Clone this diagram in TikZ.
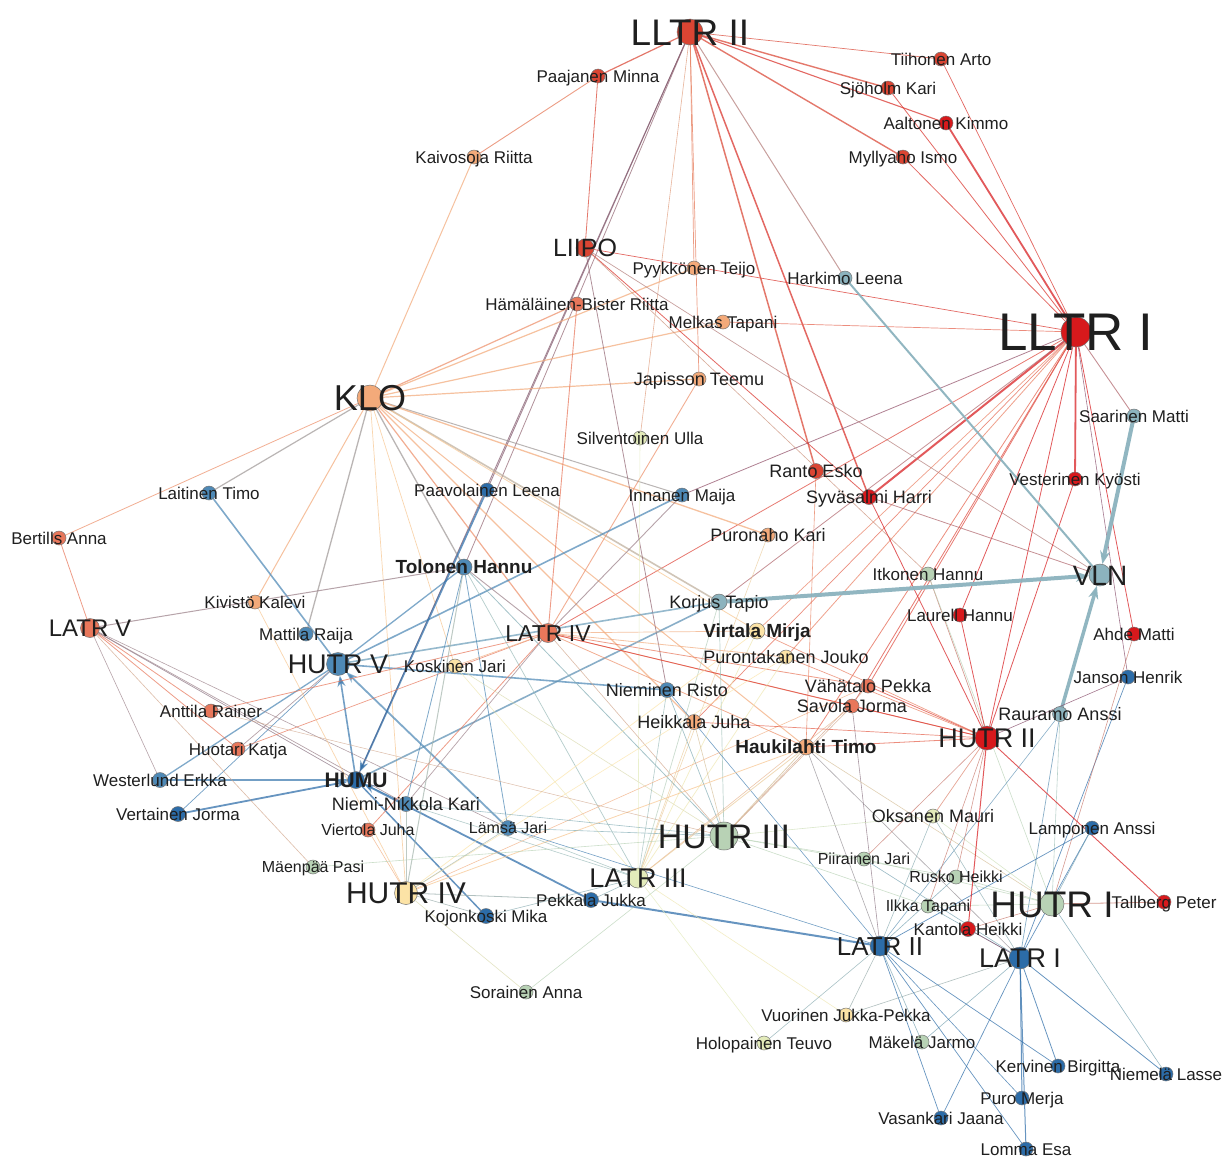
\documentclass[tikz,border=0pt]{standalone}
\usepackage{fontspec}
\setmainfont{Liberation Sans}
\usetikzlibrary{arrows.meta}
\pgfdeclarelayer{paper}
\pgfdeclarelayer{edges}
\pgfsetlayers{paper,edges,main}

% palette
\definecolor{pRed}{HTML}{D7191C}
\definecolor{pRedOr}{HTML}{DA4533}
\definecolor{pSalmon}{HTML}{E8775B}
\definecolor{pPeach}{HTML}{F3AA7A}
\definecolor{pYellow}{HTML}{FCE3A6}
\definecolor{pPale}{HTML}{E3EBBA}
\definecolor{pGreen}{HTML}{B8D2B5}
\definecolor{pTeal}{HTML}{8CB3BE}
\definecolor{pSteel}{HTML}{4E89B6}
\definecolor{pBlue}{HTML}{2C6CA8}

\tikzset{
  dot/.style={circle, draw=black!55, line width=0.5pt, inner sep=0pt},
  lab/.style={inner sep=0pt, text=black!88},
  edge/.style={opacity=0.72, line cap=round},
  heavy/.style={opacity=0.95, line cap=round},
}

% node: name, x, y, diameter, colour
\newcommand\Nd[5]{\colorlet{c#1}{#5}\node[dot, minimum size=#4pt, fill=#5] (#1) at (#2,#3) {};}
% label centred on its node: name, size, text
\newcommand\Lb[3]{\node[lab, anchor=base, yshift={-0.358*#2pt}, font=\fontsize{#2}{#2}\selectfont] (l#1) at (#1.center) {#3};}
\newcommand\Lbb[3]{\node[lab, anchor=base, yshift={-0.358*#2pt}, font=\fontsize{#2}{#2}\selectfont\bfseries] (l#1) at (#1.center) {#3};}
% connectors: from, to, width
\newcommand\E[3]{\draw[edge, draw=c#1!50!c#2, line width=#3pt] (#1) -- (#2);}
\newcommand\A[3]{\draw[edge, draw=c#1!50!c#2, line width=#3pt, -{Stealth[length=11pt,width=8pt]}] (#1) -- (#2);}
% heavy teal connectors into VLN
\newcommand\V[3]{\draw[heavy, draw=pTeal, line width=#3pt, -{Stealth[length=13pt,width=10pt]}] (#1) -- (#2);}

\begin{document}
\begin{tikzpicture}[x=1pt,y=-1pt]
\begin{pgfonlayer}{paper}
\fill[white] (0,0) rectangle (1231,1160);
\end{pgfonlayer}
\useasboundingbox (0,0) rectangle (1231,1160);

% ---- groups
\Nd{lltrII}{690}{32}{26}{pRedOr}
\Nd{lltrI}{1076}{332}{30}{pRed}
\Nd{klo}{370}{398}{26}{pPeach}
\Nd{vln}{1100}{575}{22}{pTeal}
\Nd{hutrIII}{724}{836}{28}{pGreen}
\Nd{hutrI}{1052}{904}{24}{pGreen}
\Nd{hutrII}{987}{738}{24}{pRed}
\Nd{hutrIV}{406}{893}{23}{pYellow}
\Nd{hutrV}{338}{664}{23}{pSteel}
\Nd{latrI}{1020}{958}{22}{pBlue}
\Nd{latrII}{880}{946}{20}{pBlue}
\Nd{latrIII}{638}{878}{20}{pPale}
\Nd{latrIV}{548}{633}{19}{pSalmon}
\Nd{latrV}{90}{628}{19}{pSalmon}
\Nd{liipo}{585}{248}{18}{pRedOr}
\Nd{humu}{356}{780}{17}{pBlue}

% ---- people
\Nd{paajanen}{598}{76}{14}{pRedOr}
\Nd{kaivosoja}{474}{157}{14}{pPeach}
\Nd{tiihonen}{941}{59}{14}{pRedOr}
\Nd{sjoholm}{888}{88}{14}{pRedOr}
\Nd{aaltonen}{946}{123}{14}{pRed}
\Nd{myllyaho}{903}{157}{14}{pRedOr}
\Nd{pyykkonen}{694}{268}{14}{pPeach}
\Nd{harkimo}{845}{278}{14}{pTeal}
\Nd{hamalainen}{577}{304}{14}{pSalmon}
\Nd{melkas}{723}{322}{14}{pPeach}
\Nd{japisson}{699}{379}{14}{pPeach}
\Nd{silventoinen}{640}{438}{14}{pPale}
\Nd{saarinen}{1134}{416}{14}{pTeal}
\Nd{ranto}{816}{471}{15}{pRedOr}
\Nd{syvasalmi}{869}{497}{15}{pRed}
\Nd{vesterinen}{1075}{479}{14}{pRed}
\Nd{innanen}{682}{495}{14}{pSteel}
\Nd{laitinen}{209}{493}{14}{pSteel}
\Nd{paavolainen}{487}{490}{14}{pBlue}
\Nd{bertills}{59}{538}{14}{pSalmon}
\Nd{puronaho}{768}{535}{14}{pPeach}
\Nd{tolonen}{464}{567}{16}{pSteel}
\Nd{itkonen}{928}{574}{14}{pGreen}
\Nd{kivisto}{255}{602}{14}{pPeach}
\Nd{korjus}{719}{602}{16}{pTeal}
\Nd{laurell}{960}{615}{14}{pRed}
\Nd{mattila}{306}{634}{14}{pSteel}
\Nd{virtala}{757}{631}{16}{pYellow}
\Nd{ahde}{1134}{634}{14}{pRed}
\Nd{koskinen}{455}{666}{14}{pYellow}
\Nd{purontakanen}{786}{657}{14}{pYellow}
\Nd{nieminen}{667}{690}{15}{pSteel}
\Nd{janson}{1128}{677}{14}{pBlue}
\Nd{vahatalo}{868}{686}{14}{pSalmon}
\Nd{anttila}{211}{711}{14}{pSalmon}
\Nd{savola}{852}{706}{14}{pSalmon}
\Nd{rauramo}{1060}{714}{15}{pTeal}
\Nd{heikkala}{694}{722}{15}{pPeach}
\Nd{huotari}{238}{749}{14}{pSalmon}
\Nd{haukilahti}{806}{747}{16}{pPeach}
\Nd{westerlund}{160}{780}{15}{pSteel}
\Nd{vertainen}{178}{814}{15}{pBlue}
\Nd{nieminikkola}{406}{804}{15}{pSteel}
\Nd{lamsa}{508}{828}{15}{pSteel}
\Nd{viertola}{368}{830}{14}{pSalmon}
\Nd{oksanen}{933}{816}{14}{pPale}
\Nd{lamponen}{1092}{828}{14}{pBlue}
\Nd{maenpaa}{313}{867}{14}{pGreen}
\Nd{piirainen}{864}{859}{14}{pGreen}
\Nd{rusko}{956}{877}{14}{pGreen}
\Nd{ilkka}{928}{906}{14}{pGreen}
\Nd{tallberg}{1164}{902}{14}{pRed}
\Nd{kantola}{968}{929}{15}{pRed}
\Nd{pekkala}{591}{900}{15}{pBlue}
\Nd{kojonkoski}{486}{916}{15}{pBlue}
\Nd{sorainen}{526}{992}{14}{pGreen}
\Nd{vuorinen}{846}{1015}{14}{pYellow}
\Nd{holopainen}{764}{1043}{14}{pPale}
\Nd{makela}{922}{1042}{14}{pGreen}
\Nd{kervinen}{1058}{1066}{14}{pBlue}
\Nd{niemela}{1166}{1074}{14}{pBlue}
\Nd{puro}{1022}{1098}{14}{pBlue}
\Nd{vasankari}{941}{1118}{14}{pBlue}
\Nd{lomma}{1026}{1149}{14}{pBlue}

% ---- labels
\Lb{lltrII}{37}{LLTR II}
\Lb{lltrI}{53}{LLTR I}
\Lb{klo}{36}{KLO}
\Lb{vln}{28}{VLN}
\Lb{hutrIII}{34}{HUTR III}
\Lb{hutrI}{37}{HUTR I}
\Lb{hutrII}{27}{HUTR II}
\Lb{hutrIV}{30}{HUTR IV}
\Lb{hutrV}{27}{HUTR V}
\Lb{latrI}{27}{LATR I}
\Lb{latrII}{26}{LATR II}
\Lb{latrIII}{27}{LATR III}
\Lb{latrIV}{23}{LATR IV}
\Lb{latrV}{24}{LATR V}
\Lb{liipo}{25}{LIIPO}
\Lbb{humu}{21}{HUMU}
\Lb{paajanen}{17}{Paajanen Minna}
\Lb{kaivosoja}{17}{Kaivosoja Riitta}
\Lb{tiihonen}{17}{Tiihonen Arto}
\Lb{sjoholm}{17}{Sjöholm Kari}
\Lb{aaltonen}{17}{Aaltonen Kimmo}
\Lb{myllyaho}{17}{Myllyaho Ismo}
\Lb{pyykkonen}{17}{Pyykkönen Teijo}
\Lb{harkimo}{17}{Harkimo Leena}
\Lb{hamalainen}{17}{Hämäläinen-Bister Riitta}
\Lb{melkas}{17}{Melkas Tapani}
\Lb{japisson}{18}{Japisson Teemu}
\Lb{silventoinen}{17}{Silventoinen Ulla}
\Lb{saarinen}{17}{Saarinen Matti}
\Lb{ranto}{18}{Ranto Esko}
\Lb{syvasalmi}{18}{Syväsalmi Harri}
\Lb{vesterinen}{17}{Vesterinen Kyösti}
\Lb{innanen}{17}{Innanen Maija}
\Lb{laitinen}{17}{Laitinen Timo}
\Lb{paavolainen}{17}{Paavolainen Leena}
\Lb{bertills}{17}{Bertills Anna}
\Lb{puronaho}{18}{Puronaho Kari}
\Lbb{tolonen}{19}{Tolonen Hannu}
\Lb{itkonen}{17}{Itkonen Hannu}
\Lb{kivisto}{17}{Kivistö Kalevi}
\Lb{korjus}{18}{Korjus Tapio}
\Lb{laurell}{17}{Laurell Hannu}
\Lb{mattila}{17}{Mattila Raija}
\Lbb{virtala}{19}{Virtala Mirja}
\Lb{ahde}{17}{Ahde Matti}
\Lb{koskinen}{17}{Koskinen Jari}
\Lb{purontakanen}{18}{Purontakanen Jouko}
\Lb{nieminen}{18}{Nieminen Risto}
\Lb{janson}{17}{Janson Henrik}
\Lb{vahatalo}{18}{Vähätalo Pekka}
\Lb{anttila}{17}{Anttila Rainer}
\Lb{savola}{18}{Savola Jorma}
\Lb{rauramo}{18}{Rauramo Anssi}
\Lb{heikkala}{18}{Heikkala Juha}
\Lb{huotari}{17}{Huotari Katja}
\Lbb{haukilahti}{19}{Haukilahti Timo}
\Lb{westerlund}{17}{Westerlund Erkka}
\Lb{vertainen}{17}{Vertainen Jorma}
\Lb{nieminikkola}{18}{Niemi-Nikkola Kari}
\Lb{lamsa}{16}{Lämsä Jari}
\Lb{viertola}{16}{Viertola Juha}
\Lb{oksanen}{18}{Oksanen Mauri}
\Lb{lamponen}{17}{Lamponen Anssi}
\Lb{maenpaa}{16}{Mäenpää Pasi}
\Lb{piirainen}{16}{Piirainen Jari}
\Lb{rusko}{16}{Rusko Heikki}
\Lb{ilkka}{16}{Ilkka Tapani}
\Lb{tallberg}{17}{Tallberg Peter}
\Lb{kantola}{17}{Kantola Heikki}
\Lb{pekkala}{17}{Pekkala Jukka}
\Lb{kojonkoski}{17}{Kojonkoski Mika}
\Lb{sorainen}{17}{Sorainen Anna}
\Lb{vuorinen}{17}{Vuorinen Jukka-Pekka}
\Lb{holopainen}{17}{Holopainen Teuvo}
\Lb{makela}{17}{Mäkelä Jarmo}
\Lb{kervinen}{17}{Kervinen Birgitta}
\Lb{niemela}{17}{Niemelä Lasse}
\Lb{puro}{17}{Puro Merja}
\Lb{vasankari}{17}{Vasankari Jaana}
\Lb{lomma}{17}{Lomma Esa}

\begin{pgfonlayer}{edges}
% LLTR II
\E{lltrII}{paajanen}{1.2}
\E{lltrII}{tiihonen}{0.7}
\E{lltrII}{sjoholm}{1.4}
\E{lltrII}{aaltonen}{1.1}
\E{lltrII}{myllyaho}{1.4}
\E{lltrII}{pyykkonen}{0.7}
\E{lltrII}{japisson}{0.7}
\E{lltrII}{silventoinen}{0.6}
\E{lltrII}{harkimo}{1.0}
\E{lltrII}{ranto}{1.5}
\E{lltrII}{syvasalmi}{1.5}
\E{lltrII}{humu}{0.9}
\E{lltrII}{paavolainen}{0.9}
\E{lltrII}{tolonen}{0.8}
% LLTR I
\E{tiihonen}{lltrI}{0.7}
\E{sjoholm}{lltrI}{0.8}
\E{aaltonen}{lltrI}{1.8}
\E{myllyaho}{lltrI}{0.8}
\E{liipo}{lltrI}{0.7}
\E{melkas}{lltrI}{0.7}
\E{lltrI}{saarinen}{0.9}
\E{lltrI}{vesterinen}{1.8}
\E{lltrI}{ahde}{0.8}
\E{lltrI}{syvasalmi}{2.0}
\E{lltrI}{innanen}{0.8}
\E{lltrI}{korjus}{0.8}
\E{lltrI}{laurell}{0.8}
\E{lltrI}{hutrII}{0.8}
\E{lltrI}{savola}{0.8}
\E{lltrI}{vahatalo}{0.8}
\E{lltrI}{haukilahti}{0.8}
\E{lltrI}{purontakanen}{0.8}
\E{lltrI}{virtala}{0.7}
\E{lltrI}{latrIV}{0.8}
\E{lltrI}{heikkala}{0.7}
\E{lltrI}{janson}{0.6}
% KLO
\E{kaivosoja}{klo}{1.0}
\E{paajanen}{kaivosoja}{0.9}
\E{klo}{hamalainen}{1.2}
\E{klo}{pyykkonen}{1.2}
\E{klo}{melkas}{1.2}
\E{klo}{japisson}{1.2}
\E{klo}{laitinen}{1.2}
\E{bertills}{klo}{0.8}
\E{klo}{kivisto}{1.0}
\E{klo}{mattila}{1.3}
\E{klo}{tolonen}{1.3}
\E{klo}{innanen}{1.0}
\E{klo}{puronaho}{1.3}
\E{klo}{korjus}{1.6}
\E{klo}{latrIV}{1.2}
\E{klo}{heikkala}{1.2}
\E{klo}{haukilahti}{1.0}
\E{klo}{virtala}{0.8}
\E{klo}{hutrIV}{0.7}
\E{klo}{koskinen}{0.7}
% LIIPO and neighbours
\E{paajanen}{liipo}{0.8}
\E{liipo}{syvasalmi}{0.8}
\E{liipo}{vln}{0.7}
\E{liipo}{nieminen}{0.8}
\E{liipo}{itkonen}{0.6}
\E{hamalainen}{latrIV}{0.9}
\E{japisson}{latrIV}{0.9}
\E{silventoinen}{latrIII}{0.6}
\E{ranto}{haukilahti}{0.6}
\E{syvasalmi}{hutrII}{0.8}
\E{syvasalmi}{vln}{0.8}
\E{vesterinen}{hutrII}{0.8}
\E{innanen}{latrIV}{0.9}
\E{puronaho}{latrIII}{0.6}
\E{itkonen}{hutrII}{0.7}
\E{itkonen}{hutrI}{0.6}
\E{laurell}{hutrII}{0.8}
% VLN
\V{saarinen}{vln}{4.0}
\V{korjus}{vln}{4.0}
\V{rauramo}{vln}{3.5}
\draw[heavy, draw=pTeal, line width=2pt] (harkimo) -- (vln);
% HUTR V and HUMU
\E{laitinen}{hutrV}{1.6}
\E{hutrV}{tolonen}{1.3}
\E{hutrV}{innanen}{1.6}
\E{hutrV}{korjus}{1.6}
\E{hutrV}{nieminen}{1.6}
\E{westerlund}{hutrV}{1.3}
\E{vertainen}{hutrV}{0.7}
\E{hutrV}{huotari}{0.7}
\A{lamsa}{hutrV}{1.8}
\A{humu}{hutrV}{1.6}
\E{westerlund}{humu}{1.3}
\A{vertainen}{humu}{1.8}
\A{paavolainen}{humu}{1.8}
\E{korjus}{humu}{1.6}
\A{pekkala}{humu}{1.8}
\E{kojonkoski}{humu}{1.5}
\E{nieminikkola}{humu}{1.0}
\E{latrV}{humu}{0.7}
% LATR V
\E{bertills}{latrV}{0.8}
\E{latrV}{tolonen}{1.0}
\E{latrV}{anttila}{0.8}
\E{latrV}{huotari}{0.8}
\E{latrV}{nieminikkola}{0.7}
\E{latrV}{maenpaa}{0.6}
\E{latrV}{westerlund}{0.6}
\E{latrV}{lamsa}{0.6}
% LATR IV
\E{latrIV}{anttila}{0.8}
\E{latrIV}{huotari}{0.7}
\E{latrIV}{viertola}{0.8}
\E{latrIV}{nieminikkola}{0.7}
\E{latrIV}{koskinen}{0.7}
\E{tolonen}{latrIV}{0.9}
\E{latrIV}{virtala}{0.7}
\E{latrIV}{purontakanen}{0.8}
\E{latrIV}{vahatalo}{0.8}
\E{latrIV}{savola}{0.8}
\E{latrIV}{haukilahti}{0.8}
\E{latrIV}{hutrII}{0.8}
\E{latrIV}{hutrIII}{0.6}
% Tolonen, Kivistö, Koskinen
\E{tolonen}{hutrIV}{1.0}
\E{tolonen}{hutrIII}{0.8}
\E{tolonen}{latrIII}{0.7}
\E{tolonen}{nieminikkola}{0.8}
\E{tolonen}{lamsa}{0.8}
\E{kivisto}{hutrIV}{0.7}
\E{koskinen}{hutrIII}{0.6}
\E{koskinen}{latrIII}{0.6}
% middle people
\E{korjus}{latrIII}{0.7}
\E{korjus}{hutrIII}{0.7}
\E{virtala}{latrIII}{0.7}
\E{virtala}{hutrIV}{0.7}
\E{virtala}{hutrII}{0.7}
\E{purontakanen}{hutrII}{0.7}
\E{purontakanen}{latrIII}{0.7}
\E{purontakanen}{hutrIV}{0.6}
\E{nieminen}{hutrIII}{0.7}
\E{nieminen}{latrIII}{0.6}
\E{nieminen}{latrII}{0.6}
\E{vahatalo}{hutrII}{0.8}
\E{vahatalo}{hutrIII}{0.6}
\E{vahatalo}{hutrIV}{0.6}
\E{savola}{hutrII}{0.8}
\E{savola}{hutrIII}{0.6}
\E{savola}{latrII}{0.6}
\E{savola}{latrIII}{0.6}
\E{heikkala}{hutrII}{0.7}
\E{heikkala}{latrIII}{0.6}
\E{heikkala}{hutrIII}{0.6}
\E{haukilahti}{hutrII}{0.8}
\E{haukilahti}{hutrIII}{0.8}
\E{haukilahti}{latrIII}{0.8}
\E{haukilahti}{hutrIV}{0.8}
\E{haukilahti}{latrII}{0.6}
\E{haukilahti}{latrI}{0.6}
\E{haukilahti}{hutrI}{0.6}
% right side
\E{rauramo}{latrI}{0.7}
\E{rauramo}{hutrI}{0.6}
\E{rauramo}{latrII}{0.6}
\E{janson}{latrI}{0.7}
\E{janson}{hutrII}{0.6}
\E{ahde}{hutrI}{0.6}
\E{hutrII}{tallberg}{0.9}
\E{lamponen}{latrI}{0.7}
\E{lamponen}{latrII}{0.7}
\E{lamponen}{hutrI}{0.6}
\E{oksanen}{hutrII}{0.7}
\E{oksanen}{hutrIII}{0.6}
\E{oksanen}{latrI}{0.6}
\E{oksanen}{hutrI}{0.6}
\E{oksanen}{latrII}{0.6}
\E{piirainen}{hutrIII}{0.6}
\E{piirainen}{hutrII}{0.6}
\E{piirainen}{latrI}{0.6}
\E{piirainen}{hutrI}{0.6}
\E{rusko}{hutrII}{0.6}
\E{rusko}{hutrIII}{0.6}
\E{rusko}{hutrI}{0.6}
\E{rusko}{latrII}{0.6}
\E{ilkka}{hutrIII}{0.6}
\E{ilkka}{hutrII}{0.6}
\E{ilkka}{hutrI}{0.6}
\E{ilkka}{latrI}{0.6}
\E{kantola}{hutrII}{1.0}
\E{kantola}{hutrI}{0.6}
\E{kantola}{latrI}{0.6}
\E{tallberg}{hutrI}{0.8}
% lower left
\E{lamsa}{hutrIII}{0.6}
\E{lamsa}{latrIII}{0.6}
\E{lamsa}{hutrIV}{0.6}
\E{lamsa}{latrII}{0.6}
\E{nieminikkola}{hutrIV}{0.8}
\E{nieminikkola}{hutrIII}{0.6}
\E{nieminikkola}{latrIII}{0.6}
\E{viertola}{hutrIV}{0.6}
\E{latrII}{pekkala}{2.0}
\E{pekkala}{hutrIV}{0.8}
\E{pekkala}{latrIII}{0.6}
\E{kojonkoski}{hutrIV}{0.6}
\E{kojonkoski}{latrIII}{0.6}
\E{sorainen}{hutrIV}{0.6}
\E{sorainen}{hutrIII}{0.6}
\E{maenpaa}{hutrIII}{0.6}
\E{anttila}{hutrIII}{0.5}
% bottom
\E{vuorinen}{latrIII}{0.6}
\E{vuorinen}{latrII}{0.6}
\E{vuorinen}{latrI}{0.6}
\E{holopainen}{latrIII}{0.6}
\E{holopainen}{latrII}{0.6}
\E{makela}{latrII}{0.6}
\E{makela}{latrI}{0.6}
\E{kervinen}{latrI}{0.8}
\E{kervinen}{latrII}{0.7}
\E{niemela}{latrI}{0.8}
\E{niemela}{hutrI}{0.6}
\E{puro}{latrI}{1.0}
\E{puro}{latrII}{0.6}
\E{vasankari}{latrI}{0.7}
\E{vasankari}{latrII}{0.7}
\E{lomma}{latrI}{1.0}
\E{lomma}{latrII}{0.7}
\end{pgfonlayer}
\end{tikzpicture}
\end{document}
